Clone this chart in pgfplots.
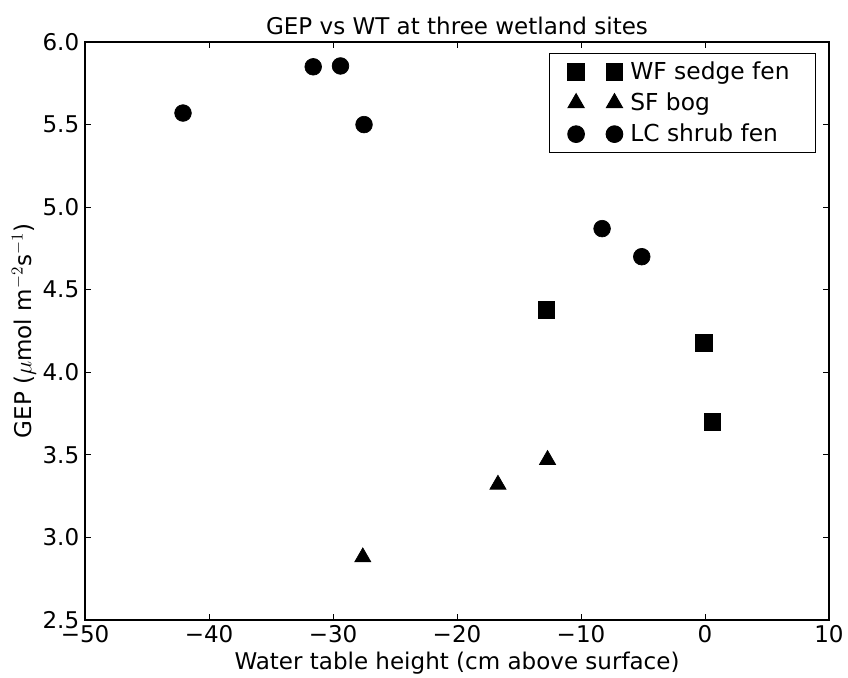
\documentclass[border=0pt]{standalone}
\usepackage{pgfplots}
\pgfplotsset{compat=1.18}
\usepackage{fontspec}
\setmainfont{DejaVu Sans}
\begin{document}
\begin{tikzpicture}
\begin{axis}[
    scale only axis,
    width=446pt, height=346.5pt,
    xmin=-50, xmax=10, ymin=2.5, ymax=6.0,
    xtick={-50,-40,...,10},
    xticklabels={−50,−40,−30,−20,−10,0,10},
    ytick={2.5,3.0,...,6.0},
    yticklabels={2.5,3.0,3.5,4.0,4.5,5.0,5.5,6.0},
    tick align=inside,
    major tick length=3.3pt,
    tick style={black, line width=0.5pt},
    axis line style={line width=0.8pt},
    font=\fontsize{13.8}{16}\selectfont,
    tick label style={font=\fontsize{13.8}{16}\selectfont},
    xticklabel style={yshift=0pt},
    yticklabel style={xshift=0pt},
    title={GEP vs WT at three wetland sites},
    title style={yshift=-5pt},
    xlabel={Water table height (cm above surface)},
    ylabel={GEP ($\mu$mol m$^{-2}$s$^{-1}$)},
    xlabel style={yshift=1.5pt},
    ylabel style={yshift=-3pt},
    legend cell align=left,
    legend style={at={(rel axis cs:0.9825,0.981)}, anchor=north east,
        draw=black, line width=0.6pt, font=\fontsize{14}{16}\selectfont,
        inner xsep=11pt, inner ysep=3pt, row sep=2.5pt,
        nodes={inner xsep=4.5pt}},
    legend image code/.code={\draw[#1] plot coordinates {(0pt,0pt) (23pt,0pt)};},
]
\addplot[only marks, mark=square*, mark size=5pt, black] coordinates {
    (-12.8,4.38) (-0.1,4.18) (0.6,3.70)};
\addplot[only marks, mark=triangle*, mark size=5.6pt, black] coordinates {
    (-27.6,2.88) (-16.7,3.32) (-12.7,3.47)};
\addplot[only marks, mark=*, mark size=5pt, black] coordinates {
    (-42.1,5.57) (-31.6,5.85) (-29.4,5.855) (-27.5,5.50) (-8.3,4.87) (-5.1,4.70)};
\legend{WF sedge fen, SF bog, LC shrub fen}
\end{axis}
\pgfresetboundingbox
\path ([shift={(-51pt,-34.2pt)}]current axis.south west) rectangle ([shift={(11.4pt,25.2pt)}]current axis.north east);
\end{tikzpicture}
\end{document}
